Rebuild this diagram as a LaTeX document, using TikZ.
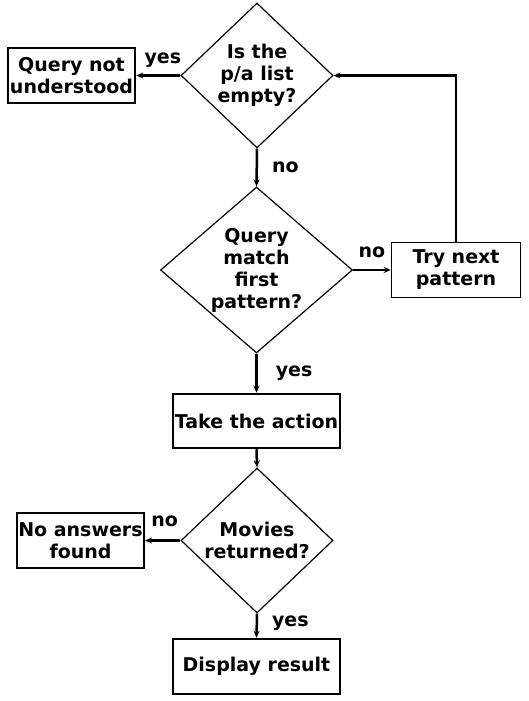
\documentclass[tikz,border=0pt]{standalone}
\usepackage{fontspec}
\setmainfont{DejaVu Sans}
\usetikzlibrary{shapes.geometric,arrows.meta}

\begin{document}
\begin{tikzpicture}[x=1pt, y=-1pt,
                    every node/.style = {font=\fontsize{19}{22}\selectfont\bfseries, align=center},
                    decision/.style = {diamond, draw, line width=1.2pt, inner sep=0pt},
                    process/.style = {rectangle, draw, line width=2.5pt, inner sep=0pt},
                    flow/.style = {line width=2.5pt, -{Stealth[length=7pt,width=6pt]}},
                    lbl/.style = {inner sep=0pt}]

                \useasboundingbox (0,0) rectangle (528,701);

                \node[decision, minimum width=152pt, minimum height=145pt, aspect=1.05] (isempty) at (257,75.5) {Is the\\p/a list\\empty?};
                \node[process, minimum width=127pt, minimum height=55pt] (notunderstood) at (71.5,75.5) {Query not\\understood};
                \node[decision, minimum width=192pt, minimum height=166pt, aspect=1.157] (match) at (256.5,270) {Query\\match\\first\\pattern?};
                \node[process, line width=1.5pt, minimum width=129pt, minimum height=55pt] (trynext) at (456,270) {Try next\\pattern};
                \node[process, minimum width=167pt, minimum height=54pt] (action) at (256.5,421) {Take the action};
                \node[decision, minimum width=152pt, minimum height=145pt, aspect=1.05] (movies) at (257,540.5) {Movies\\returned?};
                \node[process, line width=2pt, minimum width=127pt, minimum height=55pt] (noanswers) at (80.5,540.5) {No answers\\found};
                \node[process, minimum width=167pt, minimum height=55pt] (display) at (256.5,666.5) {Display result};

                \draw[flow] (isempty.west) -- node[lbl, midway, above=7pt, xshift=4.5pt] {yes} (notunderstood.east);
                \draw[flow] (isempty.south) -- node[lbl, midway, right=14pt] {no} (match.north);
                \draw[flow] (match.east) -- node[lbl, midway, above=11pt] {no} (trynext.west);
                \draw[flow] (trynext.north) |- (isempty.east);
                \draw[flow] (match.south) -- node[lbl, midway, right=18pt] {yes} (action.north);
                \draw[flow] (action.south) -- (movies.north);
                \draw[flow] (movies.west) -- node[lbl, midway, above=12pt, xshift=2pt] {no} (noanswers.east);
                \draw[flow] (movies.south) -- node[lbl, midway, right=14pt, yshift=2.5pt] {yes} (display.north);
            \end{tikzpicture}
\end{document}
